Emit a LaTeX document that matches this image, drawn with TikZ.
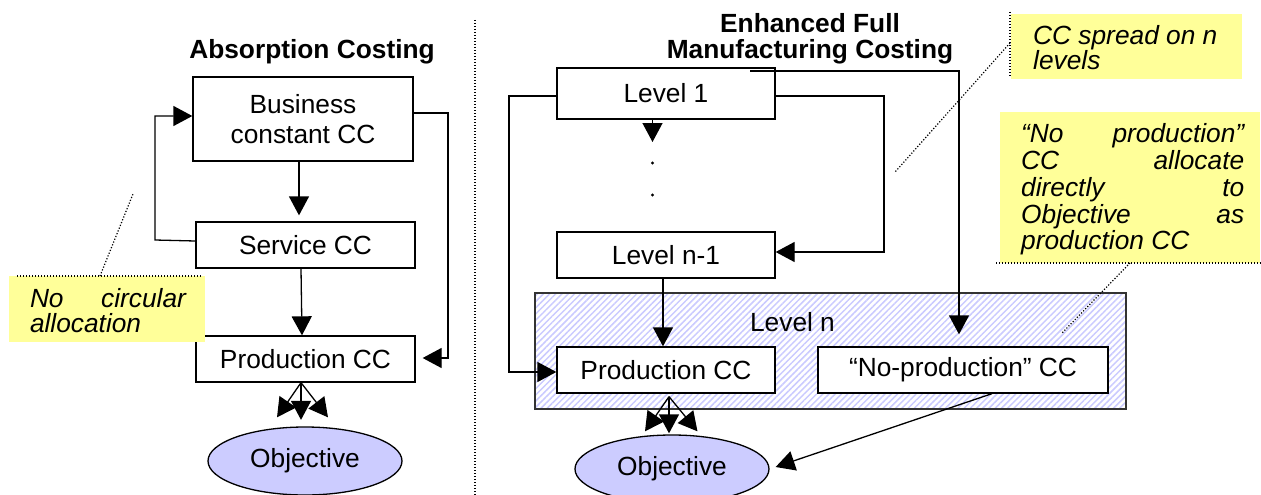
\documentclass[tikz,border=0pt]{standalone}
\usepackage{fontspec}
\setmainfont{Liberation Sans}
\usetikzlibrary{arrows.meta,patterns.meta,shapes.geometric}
\definecolor{note}{HTML}{FFFF99}
\definecolor{objc}{HTML}{CCCCFF}
\definecolor{hatch}{HTML}{CACAFF}
\newcommand\lab{\fontsize{26.3}{30}\selectfont}
\newcommand\jl[1]{\hbox to 223pt{#1}}
\begin{document}
\begin{tikzpicture}[x=1pt,y=-1pt,
  box/.style={draw,line width=1.3pt,inner sep=0pt,font=\lab,fill=white},
  objn/.style={ellipse,draw,line width=1.3pt,fill=objc,minimum width=194pt,minimum height=68pt,inner sep=0pt,font=\lab},
  arr/.style={line width=1.3pt,-{Triangle[length=19pt,width=20pt]}},
  con/.style={line width=1.3pt},
  dotln/.style={line width=1.2pt,dash pattern=on 1.2pt off 1.8pt},
  notebox/.style={fill=note,inner sep=0pt},
  ttl/.style={font={\fontsize{26.3}{26}\selectfont\bfseries},inner sep=0pt,align=center}]
\useasboundingbox (0,0) rectangle (1261,495);

% ---------- left: Absorption Costing ----------
\node[ttl] (t1) at (312,52) {Absorption Costing};
\node[box,minimum width=220pt,minimum height=84pt,align=center] (biz) at (303,119) {Business\\constant CC};
\node[box,minimum width=219pt,minimum height=46pt] (svc) at (305.5,245) {Service CC};
\node[box,minimum width=219pt,minimum height=46pt] (prodL) at (305.5,359) {Production CC};
\node[objn] (objL) at (305,461) {Objective};

\draw[arr] ([xshift=-4pt]biz.south) -- ([xshift=-6.5pt,yshift=6pt]svc.north);
\draw[arr] ([xshift=-4.5pt]svc.south) -- ([xshift=-3.5pt]prodL.north);
\coordinate (ll) at (155,240);
\draw[arr] ([yshift=4pt]svc.west) -- (ll) |- ([yshift=3pt]biz.west);
\coordinate (rl) at (448,113);
\draw[arr] ([yshift=6pt]biz.east) -- (rl) |- ([xshift=7pt,yshift=1pt]prodL.east);
\draw[arr] ([xshift=-4.5pt]prodL.south) -- ([xshift=-28pt,yshift=9pt]objL.north);
\draw[arr] ([xshift=-4.5pt]prodL.south) -- ([xshift=-4pt,yshift=6.5pt]objL.north);
\draw[arr] ([xshift=-4.5pt]prodL.south) -- ([xshift=23pt,yshift=9pt]objL.north);

% callout left
\node[notebox,minimum width=196pt,minimum height=66pt] (c1) at (107,309) {};
\node[font={\fontsize{26.3}{25}\selectfont\itshape},inner sep=0pt,align=left] (c1t) at (108,310.5)
  {\hbox to 156pt{No\hfill circular}\\allocation};
\draw[dotln] (17,276) -- (202,276);
\draw[dotln] (100,276) -- (133,194);

% divider
\draw[dotln] (475,20) -- (475,495);

% ---------- right: Enhanced Full Manufacturing Costing ----------
\node[ttl] (t2) at (810,39) {Enhanced Full\\Manufacturing Costing};
\node[draw=black!80,line width=1.3pt,pattern={Lines[angle=45,distance=4.4pt,line width=1.5pt]},pattern color=hatch,
      minimum width=591pt,minimum height=116pt,inner sep=0pt] (ln) at (830.5,351) {};
\node[font=\lab,inner sep=0pt] (lnl) at (792.5,322) {Level n};
\node[box,minimum width=218pt,minimum height=51pt] (lvl1) at (666,93.5) {Level 1};
\node[box,minimum width=218pt,minimum height=46pt] (lvln1) at (666,255) {Level n-1};
\node[box,minimum width=218pt,minimum height=46pt] (prodR) at (666,370) {Production CC};
\node[box,minimum width=290pt,minimum height=46pt] (noprod) at (963,370) {“No-production” CC\hspace{22pt}};
\node[objn] (objR) at (672,469) {Objective};

\coordinate (d0) at (652.5,142);
\draw[arr] ([xshift=-13.5pt]lvl1.south) -- (d0);
\fill (652.5,163) circle (1.6pt);
\fill (652.5,195) circle (1.6pt);
\coordinate (lc) at (509,96);
\draw[arr] ([yshift=-2.5pt]lvl1.west) -- (lc) |- ([yshift=-2pt]prodR.west);
\coordinate (rc) at (884,96);
\draw[arr] ([yshift=-2.5pt]lvl1.east) -- (rc) |- ([yshift=3pt]lvln1.east);
\coordinate (tl) at (750,71);
\draw[arr] (tl) -| ([xshift=-4pt,yshift=12pt]noprod.north);
\draw[arr] ([xshift=-3pt]lvln1.south) -- ([xshift=-3pt]prodR.north);
\draw[arr] ([xshift=29pt]noprod.south) -- ([xshift=6pt,yshift=2pt]objR.east);
\draw[arr] ([xshift=3pt,yshift=-3pt]prodR.south) -- ([xshift=-27pt,yshift=3pt]objR.north);
\draw[arr] ([xshift=3pt,yshift=-3pt]prodR.south) -- ([xshift=-3pt,yshift=1pt]objR.north);
\draw[arr] ([xshift=3pt,yshift=-3pt]prodR.south) -- ([xshift=25.5pt,yshift=3pt]objR.north);

% callout: CC spread on n levels
\node[notebox,minimum width=231pt,minimum height=65pt] (c2) at (1126.5,46.5) {};
\node[font={\fontsize{26.3}{25}\selectfont\itshape},inner sep=0pt,align=left,anchor=west] (c2t) at (1033,47.5)
  {CC spread on n\\levels};
\draw[dotln] (1010,12) -- (1010,77);
\draw[dotln] (1010,43) -- (895,172);

% callout: No production
\node[notebox,minimum width=260pt,minimum height=151pt] (c3) at (1130,187.5) {};
\node[font={\fontsize{26.3}{26.75}\selectfont\itshape},inner sep=0pt,align=left,anchor=west] (c3t) at (1021,189.5)
  {\jl{“No\hfill production”}\\\jl{CC\hfill allocate}\\\jl{directly\hfill to}\\\jl{Objective\hfill as}\\production CC};
\draw[dotln] (996,263) -- (1261,263);
\draw[dotln] (1130,263) -- (1062,333);
\end{tikzpicture}
\end{document}
